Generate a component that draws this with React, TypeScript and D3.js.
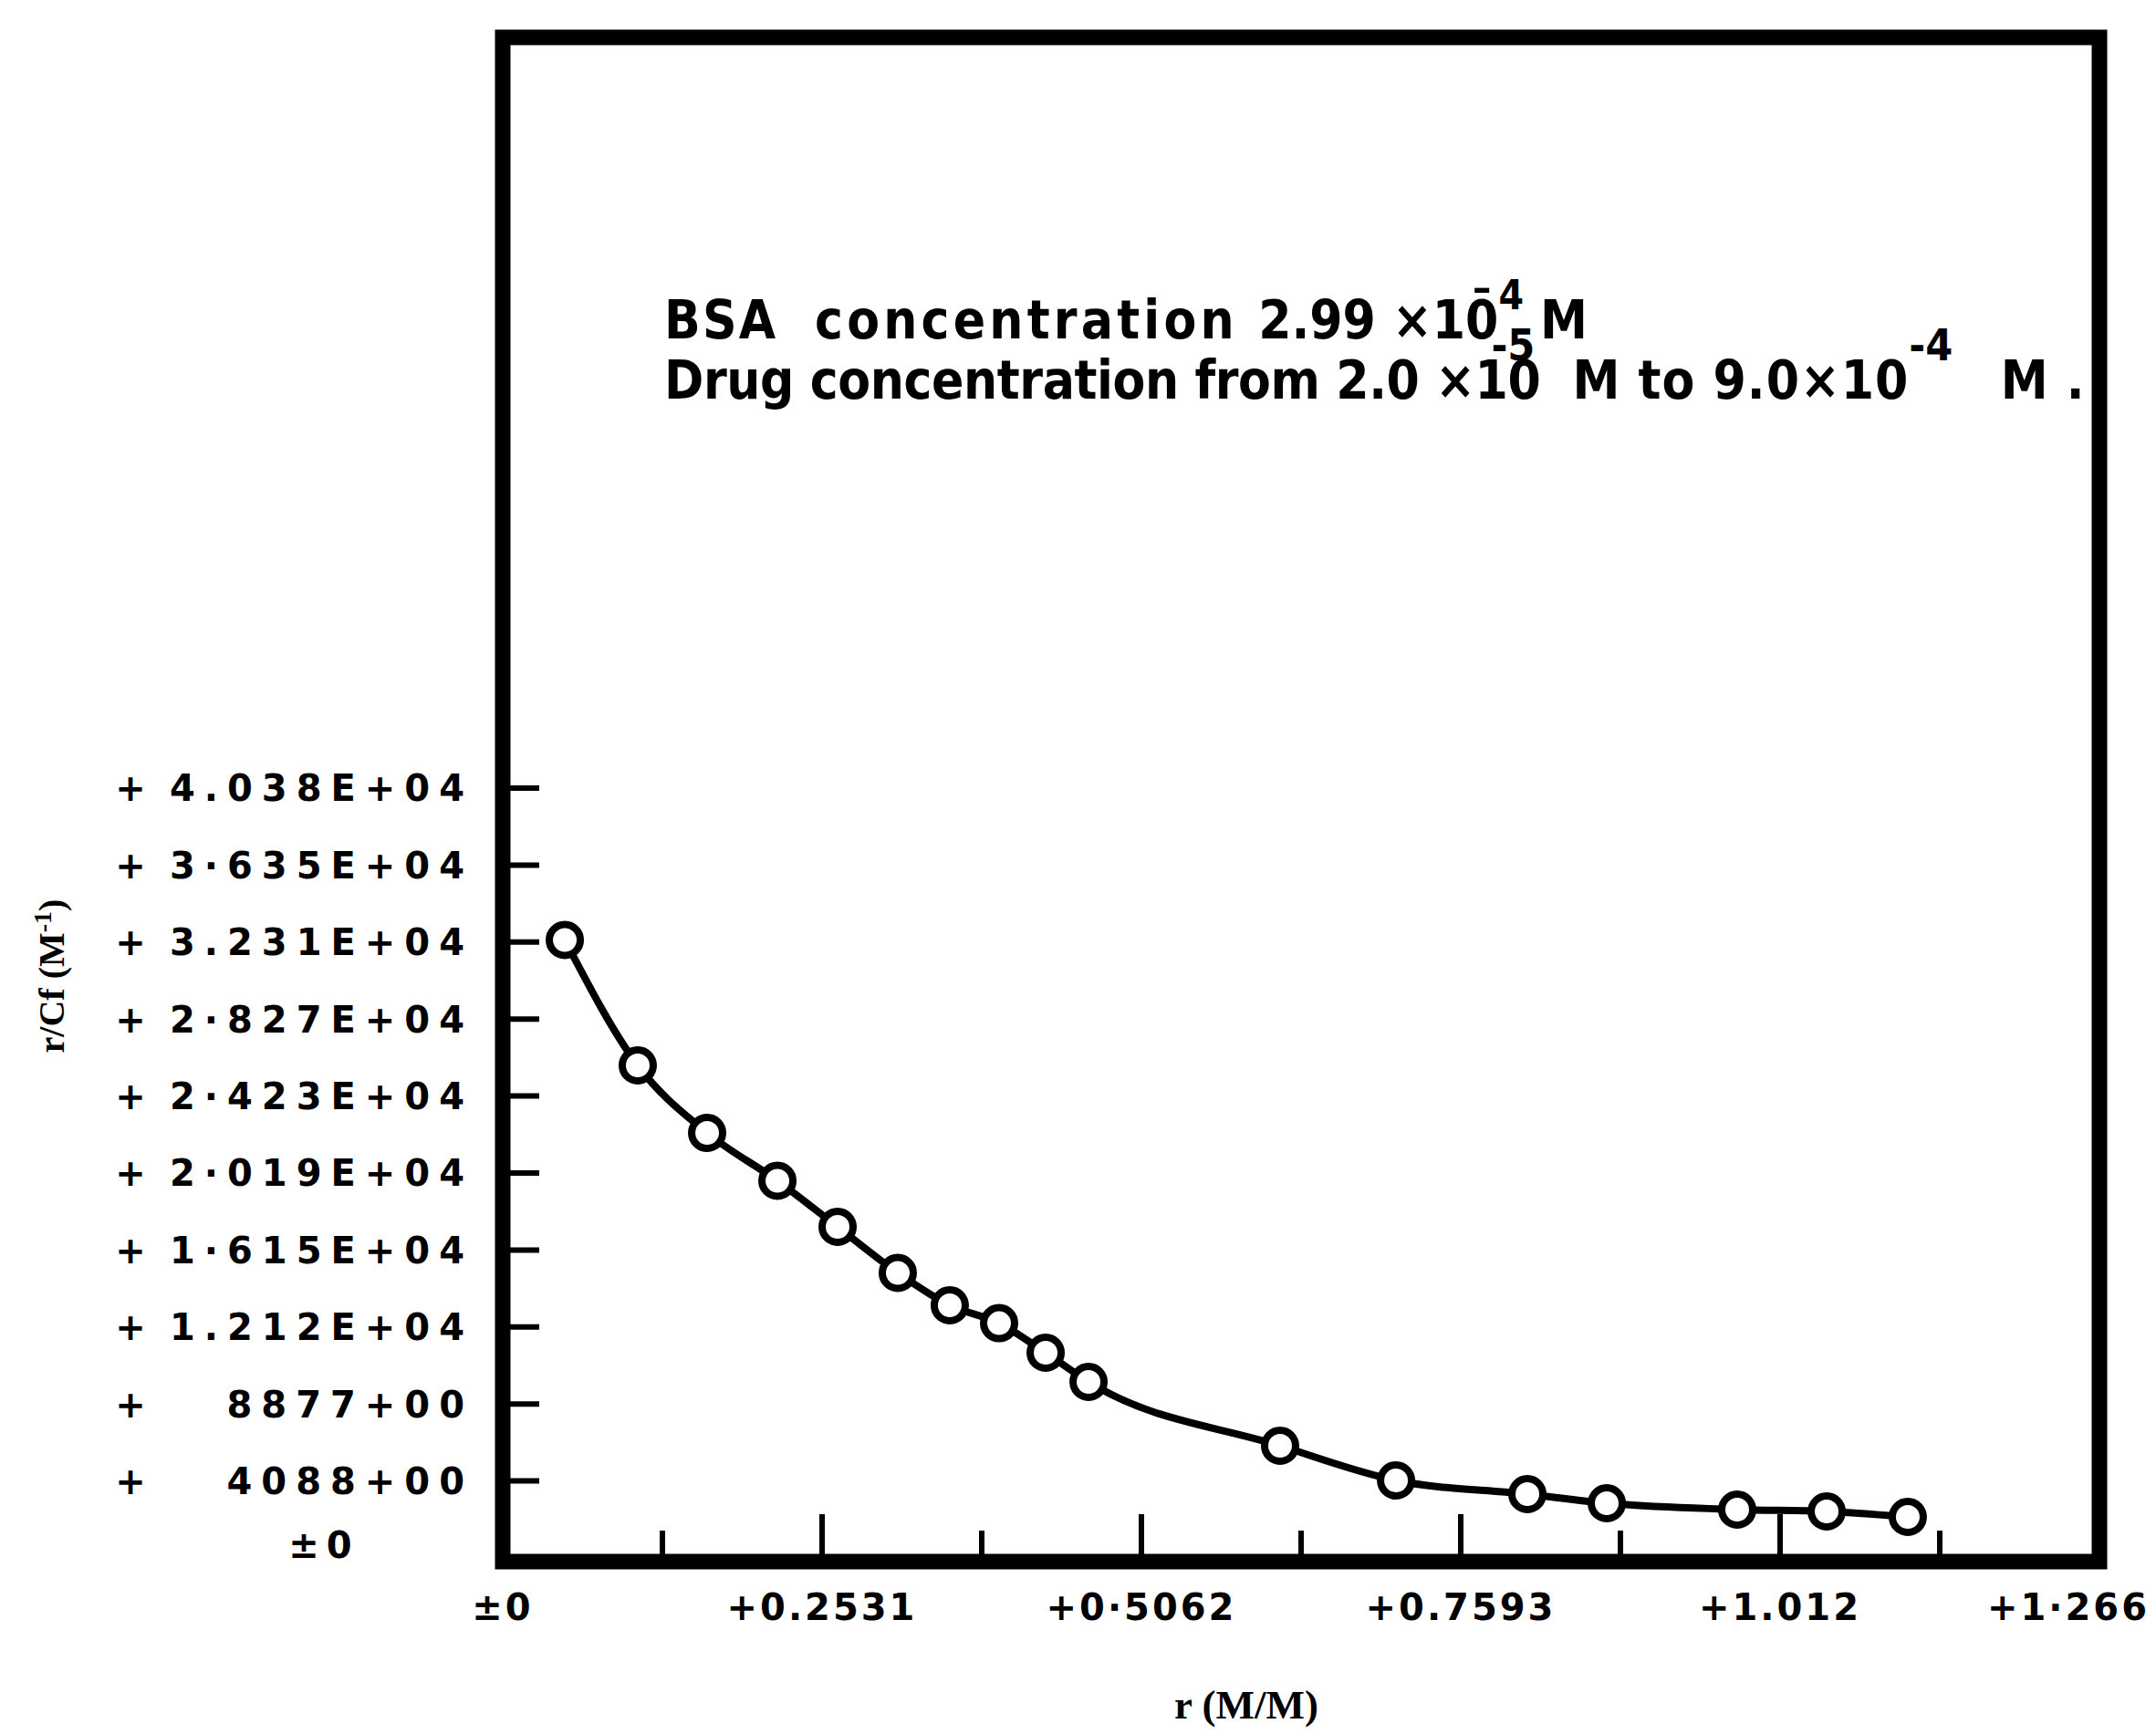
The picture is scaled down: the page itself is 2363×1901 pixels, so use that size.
// Scatchard-type plot: r/Cf against r, BSA binding
import React from 'react'
import * as d3 from 'd3'

// points
const rValues = [0.0492, 0.1070, 0.1620, 0.2177, 0.2654, 0.3131, 0.3543, 0.3934, 0.4303, 0.4643, 0.6161, 0.7080, 0.8121, 0.8750, 0.9784, 1.0493, 1.1136]
const rCfValues = [32416, 25837, 22296, 19785, 17368, 14952, 13254, 12316, 10766, 9234, 5885, 4067, 3349, 2871, 2536, 2440, 2153]

// x axis ticks
const xMajorTicks = [0, 0.2531, 0.5062, 0.7593, 1.0124, 1.2655]
const xMajorLabels = ['±0', '+0.2531', '+0·5062', '+0.7593', '+1.012', '+1·266']
const xMinorTicks = [0.12655, 0.37965, 0.63275, 0.88585, 1.13895]

// y axis ticks (bottom to top)
const yTicks = [4038, 8077, 12115, 16153, 20192, 24230, 28268, 32307, 36345, 40383]
const yTickLabels = ['4088+00', '8877+00', '1.212E+04', '1·615E+04', '2·019E+04', '2·423E+04', '2·827E+04', '3.231E+04', '3·635E+04', '4.038E+04']

const W = 2363
const H = 1901

const tickFont = "'DejaVu Sans', sans-serif"
const noteFont = "'DejaVu Sans Condensed', 'DejaVu Sans', sans-serif"
const serif = "'Liberation Serif', 'DejaVu Serif', serif"

export default function App () {
  const x = d3.scaleLinear().domain([0, 1.2655]).range([551, 2301])
  const y = d3.scaleLinear().domain([0, 40383]).range([1708, 864])
  const frameTop = 41

  const points = rValues.map((r, i) => [r, rCfValues[i]] as [number, number])
  const line = d3.line<[number, number]>()
    .x(d => x(d[0]))
    .y(d => y(d[1]))
    .curve(d3.curveMonotoneX)

  const x0 = x(0)
  const y0 = y(0)
  const last = xMajorTicks.length - 1

  return (
    <svg width={W} height={H} style={{ position: 'absolute', left: 0, top: 0, background: '#fff' }}>
      <rect x={0} y={0} width={W} height={H} fill='#fff' />

      {/* frame */}
      <rect x={x0} y={frameTop} width={x(1.2655) - x0} height={y0 + 4 - frameTop}
        fill='none' stroke='#000' strokeWidth={17} />

      {/* y ticks, pointing in */}
      {yTicks.map(v => (
        <line key={'yt' + v} x1={x0} x2={x0 + 40} y1={y(v)} y2={y(v)} stroke='#000' strokeWidth={6} />
      ))}
      {yTicks.map((v, i) => (
        <g key={'yl' + v} fontFamily={tickFont} fontWeight='bold' fontSize={40}>
          <text x={143} y={y(v)} dy='0.36em' textAnchor='middle'>+</text>
          <text x={519} y={y(v)} dy='0.36em' textAnchor='end' letterSpacing={10}>{yTickLabels[i]}</text>
        </g>
      ))}
      <text x={355} y={y0 - 14} dy='0.36em' textAnchor='middle' fontFamily={tickFont}
        fontWeight='bold' fontSize={40} letterSpacing={8}>±0</text>

      {/* x ticks, pointing in */}
      {xMajorTicks.slice(1, -1).map(v => (
        <line key={'xM' + v} x1={x(v)} x2={x(v)} y1={y0 + 4} y2={y0 - 48} stroke='#000' strokeWidth={6} />
      ))}
      {xMinorTicks.map(v => (
        <line key={'xm' + v} x1={x(v)} x2={x(v)} y1={y0 + 4} y2={y0 - 30} stroke='#000' strokeWidth={6} />
      ))}
      {xMajorTicks.map((v, i) => (
        <text key={'xl' + v} x={i === last ? 2356 : x(v)} y={1776}
          textAnchor={i === last ? 'end' : 'middle'} fontFamily={tickFont}
          fontWeight='bold' fontSize={40} letterSpacing={3}>{xMajorLabels[i]}</text>
      ))}

      {/* axis titles */}
      <text x={1366} y={1884} textAnchor='middle' fontFamily={serif} fontWeight='bold' fontSize={45}>r (M/M)</text>
      <text transform='translate(70,1070) rotate(-90)' textAnchor='middle' fontFamily={serif}
        fontWeight='bold' fontSize={40}>
        r/Cf (M<tspan dy={-14} fontSize={28}>-1</tspan><tspan dy={14}>)</tspan>
      </text>

      {/* notes */}
      <text x={728} y={371} fontFamily={noteFont} fontWeight='bold' fontSize={58} style={{ whiteSpace: 'pre' }}>
        <tspan letterSpacing={2.2}>BSA  </tspan>
        <tspan letterSpacing={4.2}>concentration </tspan>
        <tspan>2.99 ×10̄</tspan>
        <tspan dy={-32} fontSize={44}>4</tspan>
        <tspan dy={32}> M</tspan>
      </text>
      <text x={728} y={437} fontFamily={noteFont} fontWeight='bold' fontSize={58} style={{ whiteSpace: 'pre' }}>
        <tspan letterSpacing={-0.4}>Drug concentration from 2.0 ×10</tspan>
        <tspan dx={-54} dy={-42} fontSize={48}>-5</tspan>
        <tspan dx={22} dy={42} letterSpacing={1}> M to 9.0×10</tspan>
        <tspan dy={-42} fontSize={48}>-4</tspan>
        <tspan dx={14} dy={42} letterSpacing={1}>  M .</tspan>
      </text>

      {/* curve and points */}
      <path d={line(points) || ''} fill='none' stroke='#000' strokeWidth={8} strokeLinejoin='round' />
      {points.map((p, i) => (
        <circle key={'pt' + i} cx={x(p[0])} cy={y(p[1])} r={17} fill='#fff' stroke='#000' strokeWidth={8} />
      ))}
    </svg>
  )
}
